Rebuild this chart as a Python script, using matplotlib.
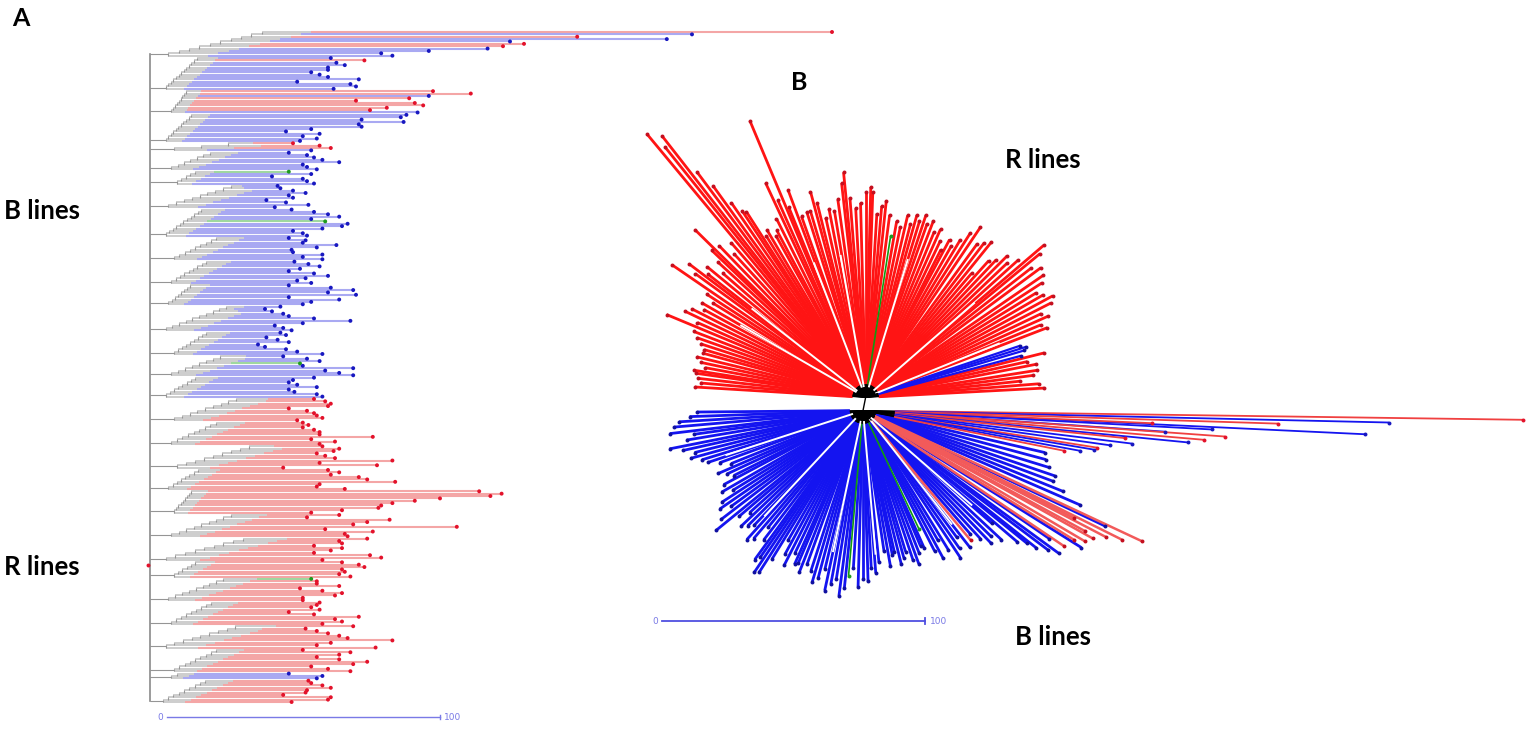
import matplotlib
matplotlib.use("Agg")
import numpy as np
from matplotlib import pyplot as plt
from matplotlib.collections import LineCollection

W, H = 1535, 737

# ---------------- panel A : rectangular tree ----------------
# tip distances (scale units, 0-100 bar) per clade, top to bottom
a_tips = [
    [240, 190, 149, 181, 125, 130, 122.5, 117, 96, 79, 83],
    [61, 73, 63, 66, 60, 60, 54, 57, 60, 71, 49, 68, 70, 62],
    [97.5, 111, 96, 89, 70, 91, 94, 81, 75, 92],
    [88, 86, 72, 87, 71, 72, 54, 45, 57, 51, 56, 50],
    [47.5, 57, 61, 54],
    [46, 52.5, 55, 58, 64, 51, 52.5, 56],
    [46, 54, 40, 51, 52.5, 55],
    [42, 43, 47.5, 52, 46, 47.5, 38, 45, 53, 41],
    [47, 55, 60, 64, 54, 59, 67, 65, 58, 47.5, 51, 52.5],
    [46, 52, 51, 63, 56, 47, 47.5, 58, 51, 58],
    [48, 53, 57, 50, 46, 55, 60, 52, 49, 54],
    [46, 61, 69, 60, 70, 46, 64, 54, 51],
    [43, 37.5, 40, 44, 46, 55, 68, 51, 41, 44, 47],
    [43, 45, 38, 42, 46, 35, 37.5, 45, 49, 58],
    [44, 52.5, 57, 50, 51, 69, 59, 64, 69],
    [55, 47.5, 46, 49, 56, 46, 48, 56, 58],
    [55, 59, 61, 60, 46, 52.5, 55, 56, 58, 49],
    [51, 53, 51, 55, 57, 57, 76, 54, 62.5, 57],
    [58, 64, 62, 56, 59, 62.5, 83, 57, 77.5, 44],
    [60, 64, 61, 71, 74, 84, 57, 56, 66],
    [114, 122, 118, 100, 91, 83, 79, 78, 65, 54],
    [64, 52.5, 82, 74, 69, 106, 59, 76, 66, 67],
    [74, 64, 65, 55, 65, 61, 55, 75, 79, 58],
    [65, 71, 73, 65, 66, 64, 68],
    [54, 56, 56, 64, 50, 58, 65, 62.5, 51, 51],
    [57, 56, 54, 57, 46, 55, 71, 62.5, 65, 58],
    [69, 52, 56, 60, 64, 67, 83, 61, 56, 77],
    [51, 68, 64, 56, 64, 74, 69, 54, 60, 68],
    [46, 58, 56],
    [53, 54, 58, 61, 52.5, 52, 44, 61, 60, 47],
]
# leaf group per clade: R = R line, B = B line, G = unassigned
a_cols = [
    "RBRBBRRBBBB",
    "BRBBBBBBBBBBBB",
    "RRBRRRRRRB",
    "BBBBBBBBBBBB",
    "RRRB",
    "BBBBBBBB",
    "GBBBBB",
    "BBBBBBBBBB",
    "BBBBBGBBBBBB",
    "BBBBBBBBBB",
    "BBBBBBBBBB",
    "BBBBBBBBB",
    "BBBBBBBBBBB",
    "BBBBBBBBBB",
    "BBBGBBBBB",
    "BBBBBBBBB",
    "RRRRRRRRRR",
    "RRRRRRRRRR",
    "RRRRRRRRRR",
    "RRRRRRRRR",
    "RRRRRRRRRR",
    "RRRRRRRRRR",
    "RRRRRRRRRR",
    "RRRRRRR",
    "GRRRRRRRRR",
    "RRRRRRRRRR",
    "RRRRRRRRRR",
    "RRRRRRRRRR",
    "BBB",
    "RRRRRRRRRR",
]
# depth of each clade's base node and of its deepest internal node
a_node = [3, 2, 4, 2, 5, 4, 6, 3, 2, 5, 4, 3, 2, 5, 4, 2,
          5, 4, 6, 3, 5, 4, 2, 5, 3, 4, 2, 5, 4, 1]
a_split = [40, 14, 10, 12, 34, 20, 14, 28, 16, 22, 18, 12, 26, 18, 24, 14,
           30, 22, 35, 15, 12, 28, 33, 14, 25, 20, 30, 22, 8, 18]
a_root = -3.5

# ---------------- panel B : unrooted radial tree ----------------
# (angle in degrees, distance in scale units) for each tip
b_red_up = [
    (3, 68), (4.5, 66), (6, 59), (7.5, 64), (9, 66), (11, 66), (12.5, 63), (14, 70),
    (21, 74), (22.5, 72), (24, 76), (25.5, 74), (27, 79), (28.5, 81), (30, 78),
    (31.5, 76), (33, 80), (34.5, 82), (36.5, 83), (38, 80), (39.5, 86), (40.5, 89),
    (42, 78), (43.5, 74), (45, 76), (46.5, 72), (48, 70), (49.5, 62), (51, 76),
    (52.5, 74), (54, 72), (56, 78), (57.5, 74), (59, 70), (60.5, 66), (62, 68),
    (63, 63), (64.5, 66), (66, 70), (67.5, 68), (69, 72), (70.5, 70), (71.7, 73),
    (73, 70), (74.3, 72), (75.5, 68), (77, 71), (78.5, 66), (80, 68), (82.5, 70),
    (84, 75), (85.2, 73), (86.5, 70), (88, 78), (88.6, 80), (90, 78), (91.5, 74),
    (93, 72), (94.5, 76), (95.6, 86), (96.4, 82), (98, 76), (99.5, 72), (101, 73),
    (102.5, 70), (104, 76), (105, 81), (106.5, 74), (107.6, 74), (109.5, 73),
    (110.5, 84), (112, 78), (112.7, 114), (114, 82), (115, 90), (116.5, 76),
    (118, 72), (119, 70), (120.5, 74), (121.6, 72), (122.7, 84), (123.5, 85),
    (124.6, 90), (125.8, 99), (126.8, 107), (127.9, 126), (128.7, 122), (129.7, 130),
    (131, 78), (132.5, 74), (134, 80), (135.5, 91), (136.3, 81), (137.5, 76),
    (139, 72), (140.5, 78), (142, 76), (142.9, 84), (144, 80), (145.6, 89),
    (147, 72), (148.3, 68), (150, 72), (151.5, 70), (153, 74), (154.5, 76),
    (156, 70), (157.4, 82), (159, 70), (160.5, 68), (162, 66), (163.5, 64),
    (164.8, 64), (166.5, 66), (168, 64), (169.5, 62), (171, 66), (171.9, 65),
    (173.5, 64), (175, 63), (176.5, 65),
]
b_green_up = [(81.2, 62)]
b_blue_up = [(15, 61), (16.5, 63), (17.5, 64), (18.5, 62)]
b_blue_low = [
    (180.5, 63), (182, 66), (183.5, 70), (185, 72), (186.8, 74), (188, 65),
    (189.5, 68), (191.2, 75), (192.5, 70), (194, 66), (195.5, 68), (197, 64),
    (198.5, 62), (200, 58), (201.9, 54), (203.5, 60), (205, 57), (206.7, 55),
    (208, 60), (210, 62), (211.5, 58), (213, 64), (214.5, 66), (216, 62),
    (217.5, 68), (219.2, 72), (220.5, 62), (222, 58), (223.5, 64), (225, 62),
    (226.5, 60), (228, 66), (229.5, 64), (230.9, 57), (232.5, 62), (234, 70),
    (235, 68), (236.1, 74), (237.3, 73), (238.5, 66), (240, 57), (241.5, 62),
    (243, 66), (244.5, 60), (246, 64), (247, 63), (248.5, 66), (250, 62),
    (252, 64), (253.5, 68), (255, 66), (256.5, 62), (258, 70), (259.5, 67),
    (261, 65), (262.6, 71), (264, 68), (266.5, 60), (268.4, 67), (270, 64),
    (271.7, 65), (273, 60), (274.5, 62), (276, 58), (278.5, 54), (280, 60),
    (281.5, 56), (282.5, 55), (284, 60), (285.5, 58), (286.8, 56), (288.5, 60),
    (290, 62), (291.5, 58), (293, 56), (294, 57), (297, 60), (298.5, 64),
    (300, 57), (301.5, 62), (303.5, 67), (305, 64), (306.5, 60), (308, 66),
    (311, 62), (312.5, 66), (314, 70), (315.5, 68), (317, 72), (318.8, 65),
    (319.6, 77), (321, 80), (321.6, 84), (323, 88), (323.9, 92), (325.5, 86),
    (327.9, 98), (334.5, 102), (336.5, 90), (338, 82), (339.6, 77), (341.2, 77),
    (343, 74), (345, 72), (347, 71),
]
b_green_low = [(265, 63), (295.3, 50)]
b_red_low = [
    (309.7, 64), (326, 92), (328.5, 94), (329.5, 98), (330.9, 100), (331.5, 96),
    (332.5, 104), (333.5, 110), (334.9, 117), (333, 90),
]
b_long = [
    (359.2, 251, "R"), (358.7, 200, "B"), (358.2, 158, "R"), (357.3, 191, "B"),
    (357.5, 110, "R"), (356.9, 133, "B"), (356, 115, "B"), (355.9, 138, "R"),
    (355.1, 130, "R"), (354.4, 124, "B"), (354, 100, "R"), (353, 103, "B"),
    (352, 95, "B"), (351, 90, "R"), (350.4, 89, "B"), (349.5, 84, "B"),
    (348.7, 78, "R"),
]
# directions of the white gaps between sub-clusters
b_gaps_up = [22, 41, 73, 100, 111, 142, 150]
b_gaps_low = [198, 227, 258, 275, 308, 319]
b_hub_red = (1.0, 2.5)
b_hub_blue = (0.0, -2.5)

LINE = {"R": "#f4a6a6", "B": "#a9a9f2", "G": "#9fd89f"}
DOT = {"R": "#e3122b", "B": "#1818c0", "G": "#1f9a1f"}
RAY = {"R": "#ff1414", "B": "#1414f0", "G": "#119911"}

fig = plt.figure(figsize=(W / 100, H / 100), dpi=100)

# ---- panel A
axA = fig.add_axes([140 / W, 0, 720 / W, 1])
n_leaf = sum(len(t) for t in a_tips)
step = (702 - 32) / (n_leaf - 1)
axA.set_xlim((140 - 160) / 2.8, (860 - 160) / 2.8)
axA.set_ylim((737 - 32) / step, -32 / step)
axA.axis("off")

gray_segs, dark_segs, col_segs, col_cols = [], [], [], []
dots_x, dots_y, dots_c = [], [], []
mids = []
i = 0
for tips, cols, node, split in zip(a_tips, a_cols, a_node, a_split):
    n = len(tips)
    ys = np.arange(i, i + n)
    # ladder: the lowest leaf splits off first, the top one last (deepest)
    depth = node + (split - node) * np.linspace(1, 0, n)
    attach = ys[-1] - 0.5 if n > 1 else ys[0]
    mids.append(attach)
    dark_segs.append([(a_root, attach), (node, attach)])
    for k in range(n - 1):
        dark_segs.append([(depth[k + 1], ys[k]), (depth[k + 1], ys[k + 1])])
    for k, (y, t, c) in enumerate(zip(ys, tips, cols)):
        d_in = depth[min(k + 1, n - 1)]
        d_col = min(depth[k] + 0.3 * (split - node) + 3, t * 0.7)
        gray_segs.append([(d_in, y), (d_col, y)])
        col_segs.append([(d_col, y), (t, y)])
        col_cols.append(LINE[c])
        dots_x.append(t)
        dots_y.append(y)
        dots_c.append(DOT[c])
    i += n

axA.add_collection(LineCollection(col_segs, colors=col_cols, linewidths=1.5, zorder=2))
axA.add_collection(LineCollection(gray_segs, colors="#c9c9c9", linewidths=1.3, zorder=3))
axA.add_collection(LineCollection(dark_segs, colors="#959595", linewidths=0.8, zorder=4))
axA.plot([a_root, a_root], [mids[0], mids[-1]], color="#8a8a8a", lw=1.2, zorder=4)
axA.scatter(dots_x, dots_y, s=8, c=dots_c, linewidths=0, zorder=5)
axA.scatter([a_root - 0.8], [np.mean(mids[16:])], s=8, c=DOT["R"], linewidths=0, zorder=5)

bar_y = (717 - 32) / step
axA.plot([2.5, 100], [bar_y, bar_y], color="#7a7ae6", lw=1.0)
axA.plot([100, 100], [bar_y - 0.8, bar_y + 0.8], color="#7a7ae6", lw=1.0)
axA.text(0, bar_y, "0", color="#7a7ae6", fontsize=6.5, ha="center", va="center")
axA.text(101.5, bar_y, "100", color="#7a7ae6", fontsize=6.5, ha="left", va="center")

# ---- panel B
axB = fig.add_axes([600 / W, 37 / H, 935 / W, 600 / H])
axB.set_xlim((600 - 863) / 2.63, (1535 - 863) / 2.63)
axB.set_ylim((404 - 700) / 2.63, (404 - 100) / 2.63)
axB.axis("off")


def rays(ax, hub, pts, colour, dot, inner=5, lw=2.0, z=2):
    segs_in, segs_out, tx, ty = [], [], [], []
    hx, hy = hub
    for ang, r in pts:
        a = np.deg2rad(ang)
        ex, ey = hx + r * np.cos(a), hy + r * np.sin(a)
        ix, iy = hx + inner * np.cos(a), hy + inner * np.sin(a)
        segs_in.append([(hx, hy), (ix, iy)])
        segs_out.append([(ix, iy), (ex, ey)])
        tx.append(ex)
        ty.append(ey)
    ax.add_collection(LineCollection(segs_out, colors=colour, linewidths=lw, zorder=z))
    ax.add_collection(LineCollection(segs_in, colors="black", linewidths=0.7, zorder=z + 0.5))
    ax.scatter(tx, ty, s=8, c=dot, linewidths=0, zorder=z + 2)


def gaps(ax, hub, angs, r0=4, r1=55):
    hx, hy = hub
    segs = []
    for ang in angs:
        a = np.deg2rad(ang)
        segs.append([(hx + r0 * np.cos(a), hy + r0 * np.sin(a)),
                     (hx + r1 * np.cos(a), hy + r1 * np.sin(a))])
    ax.add_collection(LineCollection(segs, colors="white", linewidths=1.4, zorder=3.2))


rays(axB, b_hub_red, b_red_up, RAY["R"], "#c40f1f")
rays(axB, b_hub_red, b_green_up, RAY["G"], DOT["G"], lw=1.2, z=3)
rays(axB, b_hub_red, b_blue_up, RAY["B"], "#1010a0", lw=1.6, z=3)
rays(axB, b_hub_blue, b_blue_low, RAY["B"], "#1010a0")
rays(axB, b_hub_blue, b_green_low, RAY["G"], DOT["G"], lw=1.2, z=3)
rays(axB, b_hub_blue, b_red_low, "#f25a5a", "#c40f1f", lw=1.8, z=3)
gaps(axB, b_hub_red, b_gaps_up)
gaps(axB, b_hub_blue, b_gaps_low)
for ang, r, g in b_long:
    rays(axB, b_hub_blue, [(ang, r)], RAY[g] if g == "B" else "#f04040",
         DOT[g], inner=12, lw=1.3, z=4)
axB.plot([b_hub_red[0], b_hub_blue[0]], [b_hub_red[1], b_hub_blue[1]], color="black", lw=1)

bby = (404 - 621) / 2.63
bx0, bx1 = (662 - 863) / 2.63, (925 - 863) / 2.63
axB.plot([bx0, bx1], [bby, bby], color="#4f4fe0", lw=1.3)
axB.plot([bx1, bx1], [bby - 1, bby + 1], color="#4f4fe0", lw=1.3)
axB.text(bx0 - 2.5, bby, "0", color="#7a7ae6", fontsize=6.5, ha="center", va="center")
axB.text(bx1 + 2, bby, "100", color="#7a7ae6", fontsize=6.5, ha="left", va="center")

# ---- labels
font = ["Lato", "DejaVu Sans"]
fig.text(12 / W, 1 - 18 / H, "A", fontsize=18, fontweight="bold", family=font, va="center")
fig.text(791 / W, 1 - 82 / H, "B", fontsize=18, fontweight="bold", family=font, va="center")
fig.text(4 / W, 1 - 211 / H, "B lines", fontsize=18.5, fontweight="bold", family=font, va="center")
fig.text(4 / W, 1 - 567 / H, "R lines", fontsize=18.5, fontweight="bold", family=font, va="center")
fig.text(1005 / W, 1 - 160 / H, "R lines", fontsize=18.5, fontweight="bold", family=font, va="center")
fig.text(1015 / W, 1 - 637 / H, "B lines", fontsize=18.5, fontweight="bold", family=font, va="center")

fig.savefig("out.png", dpi=100)
